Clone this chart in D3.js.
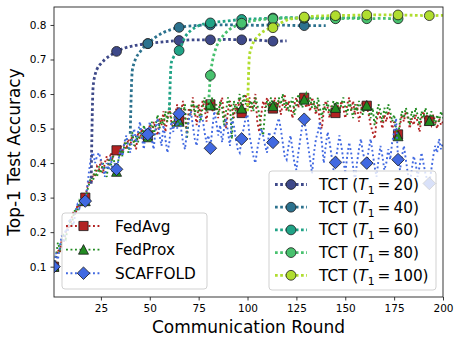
<!DOCTYPE html>
<html><head><meta charset="utf-8">
<script src="https://cdn.jsdelivr.net/npm/d3@7"></script>
<style>body{margin:0;background:#fff}svg{display:block}text{font-family:"DejaVu Sans",sans-serif;fill:#000}</style>
</head><body>
<svg id="c" width="462" height="345"></svg>
<script>
// ---------- data ----------
const xTicks = [25, 50, 75, 100, 125, 150, 175, 200];
const yTicks = [0.1, 0.2, 0.3, 0.4, 0.5, 0.6, 0.7, 0.8];
const baseNames = ["FedAvg", "FedProx", "SCAFFOLD"];
const tctNames = ["20", "40", "60", "80", "100"];

const fedAvg = [
0.10,0.12,0.15,0.14,0.18,0.17,0.20,0.22,0.21,0.24,0.26,0.25,0.28,0.27,0.30,0.31,
0.30,0.33,0.35,0.34,0.37,0.36,0.39,0.38,0.41,0.37,0.40,0.42,0.39,0.43,0.41,0.44,
0.437,0.42,0.45,0.43,0.46,0.44,0.47,0.45,0.48,0.46,0.44,0.49,0.47,0.50,0.46,0.49,
0.48,0.51,0.47,0.52,0.50,0.48,0.53,0.51,0.55,0.49,0.53,0.56,0.52,0.50,0.54,0.57,
0.524,0.55,0.58,0.53,0.49,0.56,0.54,0.59,0.55,0.51,0.57,0.54,0.58,0.56,0.52,0.57,
0.570,0.55,0.58,0.56,0.53,0.57,0.59,0.54,0.50,0.55,0.58,0.56,0.53,0.57,0.55,0.59,
0.545,0.58,0.60,0.56,0.59,0.55,0.57,0.60,0.52,0.49,0.54,0.58,0.56,0.59,0.57,0.55,
0.558,0.59,0.56,0.58,0.54,0.57,0.60,0.55,0.58,0.56,0.53,0.57,0.59,0.56,0.60,0.58,
0.589,0.56,0.58,0.55,0.59,0.57,0.54,0.57,0.52,0.50,0.55,0.58,0.56,0.53,0.57,0.55,
0.545,0.57,0.55,0.58,0.56,0.53,0.57,0.59,0.55,0.58,0.54,0.57,0.52,0.55,0.58,0.56,
0.566,0.54,0.51,0.49,0.47,0.52,0.55,0.53,0.50,0.54,0.52,0.55,0.53,0.50,0.52,0.49,
0.483,0.51,0.54,0.52,0.55,0.53,0.50,0.53,0.51,0.54,0.52,0.49,0.53,0.55,0.52,0.54,
0.523,0.51,0.54,0.52,0.50,0.53,0.51,0.52];

const fedProx = [
0.10,0.13,0.17,0.15,0.17,0.19,0.18,0.21,0.23,0.22,0.25,0.27,0.26,0.29,0.28,0.30,
0.29,0.32,0.34,0.36,0.35,0.38,0.36,0.39,0.37,0.40,0.38,0.36,0.41,0.39,0.42,0.40,
0.375,0.41,0.44,0.42,0.45,0.47,0.43,0.46,0.49,0.45,0.48,0.46,0.50,0.47,0.51,0.48,
0.475,0.50,0.52,0.48,0.51,0.54,0.50,0.53,0.51,0.55,0.52,0.57,0.53,0.50,0.55,0.53,
0.52,0.56,0.54,0.57,0.47,0.53,0.56,0.58,0.54,0.57,0.55,0.52,0.56,0.59,0.55,0.58,
0.567,0.59,0.55,0.57,0.54,0.58,0.56,0.51,0.55,0.59,0.57,0.47,0.58,0.55,0.57,0.60,
0.558,0.60,0.57,0.59,0.56,0.58,0.55,0.59,0.57,0.54,0.50,0.48,0.55,0.58,0.56,0.59,
0.565,0.58,0.55,0.59,0.57,0.60,0.56,0.58,0.55,0.57,0.59,0.54,0.57,0.60,0.58,0.56,
0.584,0.60,0.57,0.59,0.56,0.58,0.55,0.59,0.56,0.53,0.57,0.55,0.58,0.54,0.56,0.58,
0.56,0.58,0.55,0.57,0.59,0.56,0.54,0.58,0.56,0.53,0.57,0.55,0.58,0.56,0.54,0.57,
0.567,0.55,0.53,0.56,0.51,0.54,0.57,0.55,0.52,0.56,0.54,0.57,0.55,0.52,0.54,0.50,
0.478,0.52,0.55,0.53,0.56,0.54,0.51,0.55,0.53,0.56,0.54,0.51,0.55,0.53,0.56,0.54,
0.522,0.55,0.53,0.51,0.54,0.52,0.55,0.53];

const scaffold = [
0.10,0.14,0.12,0.16,0.19,0.17,0.21,0.20,0.24,0.23,0.22,0.26,0.28,0.27,0.30,0.29,
0.29,0.33,0.38,0.42,0.43,0.40,0.42,0.43,0.41,0.39,0.36,0.40,0.38,0.42,0.37,0.40,
0.382,0.41,0.44,0.42,0.46,0.48,0.45,0.43,0.47,0.50,0.46,0.49,0.52,0.47,0.44,0.50,
0.483,0.52,0.47,0.44,0.50,0.53,0.48,0.45,0.51,0.47,0.43,0.46,0.52,0.49,0.54,0.50,
0.543,0.50,0.46,0.44,0.49,0.53,0.55,0.51,0.47,0.45,0.50,0.54,0.53,0.49,0.46,0.48,
0.443,0.50,0.55,0.52,0.48,0.51,0.46,0.50,0.53,0.49,0.45,0.53,0.51,0.47,0.44,0.43,
0.470,0.50,0.53,0.54,0.48,0.45,0.42,0.40,0.44,0.47,0.50,0.48,0.45,0.43,0.49,0.47,
0.460,0.49,0.51,0.53,0.50,0.46,0.42,0.41,0.45,0.48,0.44,0.40,0.38,0.43,0.47,0.51,
0.527,0.49,0.45,0.41,0.37,0.43,0.47,0.49,0.52,0.46,0.40,0.45,0.49,0.46,0.42,0.38,
0.402,0.44,0.48,0.45,0.41,0.37,0.42,0.46,0.43,0.39,0.35,0.40,0.44,0.47,0.43,0.41,
0.400,0.44,0.47,0.43,0.39,0.36,0.41,0.45,0.42,0.38,0.40,0.44,0.41,0.46,0.49,0.53,
0.410,0.38,0.42,0.45,0.41,0.37,0.34,0.38,0.42,0.40,0.36,0.39,0.43,0.40,0.37,0.35,
0.341,0.38,0.42,0.45,0.43,0.47,0.44,0.46];

const tct20Rounds = [20,21,22,23,25,27,30,33,37,41,45,49,57,65,73,81,89,97,105,113,120];
const tct20Acc = [0.34,0.62,0.655,0.672,0.688,0.70,0.712,0.7235,0.733,0.739,0.743,0.746,0.751,0.755,0.757,0.757,0.758,0.757,0.756,0.753,0.754];
const tct40Rounds = [40,41,42,43,45,47,49,53,57,61,65,73,81,89,97,105,113,121,129,140];
const tct40Acc = [0.485,0.665,0.69,0.705,0.722,0.736,0.746,0.765,0.778,0.787,0.793,0.798,0.80,0.80,0.80,0.799,0.80,0.799,0.798,0.798];
const tct60Rounds = [60,61,62,63,65,68,71,75,81,89,97,105,113,121,129,137,145,153,160];
const tct60Acc = [0.553,0.69,0.705,0.715,0.726,0.765,0.784,0.798,0.806,0.811,0.816,0.818,0.82,0.821,0.82,0.821,0.82,0.821,0.821];
const tct80Rounds = [80,81,82,84,86,88,91,94,97,105,113,121,129,137,145,153,161,169,177,180];
const tct80Acc = [0.56,0.654,0.693,0.735,0.757,0.772,0.788,0.798,0.805,0.814,0.818,0.82,0.82,0.819,0.818,0.819,0.818,0.819,0.818,0.818];
const tct100Rounds = [100,101,102,103,105,107,110,113,117,121,125,129,137,145,153,161,169,177,185,193,200];
const tct100Acc = [0.55,0.712,0.735,0.75,0.765,0.777,0.787,0.792,0.806,0.816,0.82,0.823,0.826,0.827,0.828,0.829,0.829,0.829,0.828,0.827,0.828];

// ---------- styles ----------
const baseColors = ["#b22222", "#228b22", "#4169e1"];
const baseMarkers = ["square", "triangle", "diamond"];
const tctColors = ["#3e4989", "#2c728e", "#20a386", "#48c16e", "#b0dd2f"];

const svg = d3.select("#c");
const L = 54, R = 443, T = 7, B = 297;
const x = d3.scaleLinear().domain([1, 200]).range([L, R]);
const y = d3.scaleLinear().domain([0.0122, 0.852]).range([B, T]);

const markerPath = {
  square: "M-4.6,-4.6h9.2v9.2h-9.2z",
  triangle: "M0,-5L5,4.6L-5,4.6Z",
  diamond: "M0,-6.3L6.3,0L0,6.3L-6.3,0Z",
  circle: d3.symbol(d3.symbolCircle, Math.PI * 4.9 * 4.9)()
};

svg.append("defs").append("clipPath").attr("id", "clip")
  .append("rect").attr("x", L).attr("y", T).attr("width", R - L).attr("height", B - T);

const plot = svg.append("g").attr("clip-path", "url(#clip)");
const line = d3.line().x(d => x(d.r)).y(d => y(d.v));
const curved = d3.line().x(d => x(d.r)).y(d => y(d.v)).curve(d3.curveMonotoneX);
const isMark = r => (r - 1) % 16 === 0;

function drawSeries(data, color, marker, gen, lw, dash) {
  plot.append("path").datum(data).attr("d", gen)
    .attr("fill", "none").attr("stroke", color).attr("stroke-width", lw)
    .attr("stroke-dasharray", dash);
  plot.selectAll(null).data(data.filter(d => isMark(d.r))).enter().append("path")
    .attr("d", markerPath[marker])
    .attr("transform", d => `translate(${x(d.r)},${y(d.v)})`)
    .attr("fill", color).attr("stroke", "#1a1a1a").attr("stroke-width", 0.8);
}

[fedAvg, fedProx, scaffold].forEach((arr, i) => {
  const data = arr.map((v, k) => ({ r: k + 1, v }));
  drawSeries(data, baseColors[i], baseMarkers[i], line, 1.9, "1.9,2.6");
});
const tctR = [tct20Rounds, tct40Rounds, tct60Rounds, tct80Rounds, tct100Rounds];
const tctA = [tct20Acc, tct40Acc, tct60Acc, tct80Acc, tct100Acc];
tctR.forEach((rs, i) => {
  const data = rs.map((r, k) => ({ r, v: tctA[i][k] }));
  drawSeries(data, tctColors[i], "circle", curved, 2.8, "2.7,2.5");
});

// ---------- axes ----------
const xAxis = svg.append("g").attr("transform", `translate(0,${B})`)
  .call(d3.axisBottom(x).tickValues(xTicks).tickSize(3.5).tickPadding(4.5).tickSizeOuter(0));
const yAxis = svg.append("g").attr("transform", `translate(${L},0)`)
  .call(d3.axisLeft(y).tickValues(yTicks).tickFormat(d3.format(".1f")).tickSize(3.5).tickPadding(4).tickSizeOuter(0));
[xAxis, yAxis].forEach(a => {
  a.select(".domain").remove();
  a.selectAll("line").attr("stroke", "#222").attr("stroke-width", 0.9);
  a.selectAll("text").attr("font-size", "10.5px").attr("font-family", "DejaVu Sans").attr("fill", "#000");
});
svg.append("rect").attr("x", L).attr("y", T).attr("width", R - L).attr("height", B - T)
  .attr("fill", "none").attr("stroke", "#222").attr("stroke-width", 0.9);

svg.append("text").attr("x", (L + R) / 2).attr("y", 333).attr("text-anchor", "middle")
  .attr("font-size", "17px").text("Communication Round");
svg.append("text").attr("transform", `translate(20,${(T + B) / 2}) rotate(-90)`)
  .attr("text-anchor", "middle").attr("font-size", "17px").text("Top-1 Test Accuracy");

// ---------- legends ----------
function legendBox(x0, y0, w, h) {
  svg.append("rect").attr("x", x0).attr("y", y0).attr("width", w).attr("height", h)
    .attr("rx", 3).attr("fill", "#fff").attr("fill-opacity", 0.8)
    .attr("stroke", "#cccccc").attr("stroke-width", 0.9);
}
function legendSample(x0, x1, yy, color, marker, lw, dash) {
  svg.append("line").attr("x1", x0).attr("x2", x1).attr("y1", yy).attr("y2", yy)
    .attr("stroke", color).attr("stroke-width", lw).attr("stroke-dasharray", dash);
  svg.append("path").attr("d", markerPath[marker]).attr("transform", `translate(${(x0 + x1) / 2},${yy})`)
    .attr("fill", color).attr("stroke", "#1a1a1a").attr("stroke-width", 0.8);
}

legendBox(62, 213, 145, 76);
baseNames.forEach((n, i) => {
  const yy = 226 + i * 23.6;
  legendSample(66, 101, yy, baseColors[i], baseMarkers[i], 1.9, "1.9,2.6");
  svg.append("text").attr("x", 115).attr("y", yy).attr("dy", "0.36em")
    .attr("font-size", "15.3px").text(n);
});

legendBox(269, 171, 167, 119);
tctNames.forEach((n, i) => {
  const yy = 184.5 + i * 22.7;
  legendSample(275, 307, yy, tctColors[i], "circle", 2.8, "2.7,2.5");
  const t = svg.append("text").attr("x", 319).attr("y", yy).attr("dy", "0.36em").attr("font-size", "15.3px");
  t.append("tspan").text("TCT (");
  t.append("tspan").attr("font-style", "italic").text("T");
  t.append("tspan").attr("font-size", "10.7px").attr("dy", "4").text("1");
  t.append("tspan").attr("dy", "-4").text("\u2009=\u2009" + n + ")");
});
</script>
</body></html>
